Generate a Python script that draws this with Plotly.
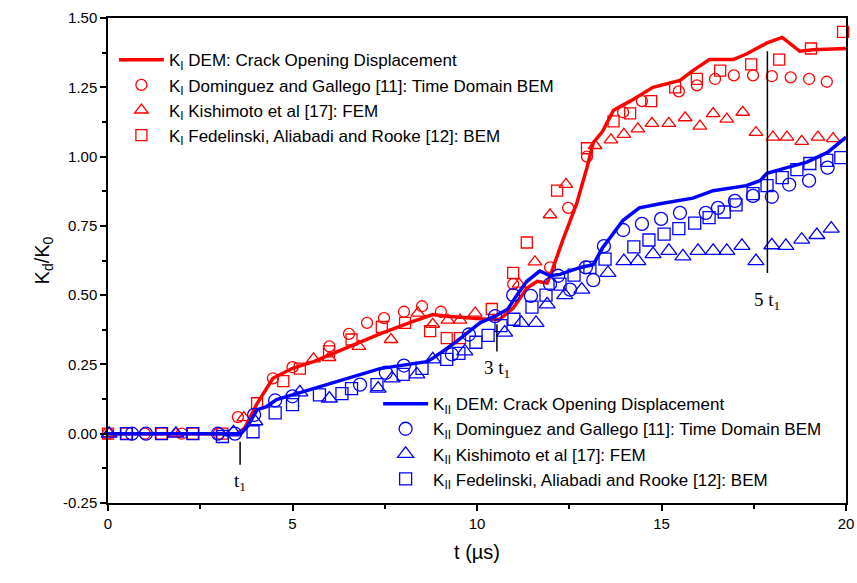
import plotly.graph_objects as go

# ---- KI DEM line ----
ki_dem_t = [0, 3.5, 3.7, 4.04, 4.47, 5.0, 5.57, 6.48, 7.37, 8.27, 8.8, 9.18, 9.73, 10.27, 10.62,
            10.98, 11.35, 11.63, 11.9, 12.03, 12.33, 12.7, 12.98, 13.15, 13.4, 13.7, 14.15, 14.77,
            15.5, 15.85, 16.3, 16.94, 17.3, 17.86, 18.27, 18.75, 19.1, 20]
ki_dem_v = [0, 0, 0.02, 0.109, 0.20, 0.236, 0.26, 0.31, 0.36, 0.405, 0.43, 0.424, 0.417, 0.413, 0.413,
            0.453, 0.525, 0.55, 0.544, 0.587, 0.70, 0.83, 0.96, 1.05, 1.09, 1.167, 1.20, 1.25,
            1.275, 1.31, 1.35, 1.35, 1.37, 1.41, 1.43, 1.38, 1.385, 1.39]

# ---- KII DEM line ----
kii_dem_t = [0, 3.6, 3.8, 4.04, 4.3, 4.57, 5.0, 5.57, 6.48, 7.37, 8.64, 8.8, 9.45, 10.08, 10.49,
             10.84, 11.08, 11.35, 11.7, 11.98, 12.25, 12.8, 13.15, 13.4, 13.96, 14.4, 14.96, 15.85,
             16.4, 17.3, 17.67, 17.86, 18.4, 18.94, 19.5, 20]
kii_dem_v = [0, 0, 0.03, 0.087, 0.098, 0.123, 0.14, 0.163, 0.20, 0.235, 0.26, 0.272, 0.333, 0.40, 0.424,
             0.45, 0.50, 0.55, 0.587, 0.57, 0.575, 0.60, 0.61, 0.67, 0.77, 0.815, 0.83, 0.85,
             0.877, 0.895, 0.913, 0.94, 0.96, 0.98, 1.015, 1.07]

# ---- KI Dominguez & Gallego (circles) ----
ki_dg_t = [0, 1, 2, 3, 3.52, 4.47, 5.0, 6.0, 6.53, 7.02, 7.48, 8.02, 8.51, 9.02, 10.98, 11.98,
           12.47, 12.98, 13.96, 14.47, 15.47, 15.96, 16.45, 16.96, 17.48, 17.99, 18.5, 19.0, 19.48]
ki_dg_v = [0, 0, 0, 0, 0.06, 0.20, 0.24, 0.315, 0.36, 0.40, 0.417, 0.44, 0.46, 0.44, 0.54, 0.60,
           0.815, 1.00, 1.16, 1.20, 1.235, 1.257, 1.28, 1.293, 1.293, 1.29, 1.286, 1.28, 1.27]

# ---- KI Kishimoto (triangles) ----
ki_k_t = [0.03, 1.84, 3.68, 5.57, 5.99, 6.8, 7.67, 8.4, 8.8, 9.21, 9.54, 9.95, 11.14, 11.57, 11.98,
          12.41, 13.2, 13.63, 13.98, 14.36, 14.74, 15.2, 15.64, 16.04, 16.4, 16.77, 17.2, 17.56,
          18.02, 18.4, 18.8, 19.24, 19.65]
ki_k_v = [0, 0, 0.058, 0.27, 0.275, 0.315, 0.34, 0.435, 0.395, 0.41, 0.41, 0.435, 0.54, 0.62, 0.79,
          0.90, 1.04, 1.06, 1.08, 1.10, 1.12, 1.12, 1.14, 1.11, 1.155, 1.135, 1.16, 1.087,
          1.07, 1.07, 1.055, 1.07, 1.065]

# ---- KI Fedelinski (squares) ----
ki_f_t = [0, 0.5, 1.45, 2.3, 3.1, 4.04, 4.75, 5.2, 5.99, 6.6, 7.42, 8.05, 8.73, 9.18, 9.54, 10.4,
          10.98, 11.35, 12.17, 12.98, 13.7, 14.15, 14.72, 15.37, 15.96, 16.59, 17.43, 18.19, 19.05, 19.92]
ki_f_v = [0, 0, 0, 0, 0, 0.11, 0.19, 0.235, 0.297, 0.34, 0.385, 0.40, 0.37, 0.345, 0.345, 0.45,
          0.58, 0.69, 0.877, 1.03, 1.127, 1.156, 1.20, 1.25, 1.28, 1.31, 1.333, 1.35, 1.39, 1.45]

# ---- KII Dominguez & Gallego (circles) ----
kii_dg_t = [0.65, 1.03, 2.98, 3.44, 3.96, 4.53, 5.0, 6.83, 7.53, 8.02, 9.32, 9.78, 10.49, 10.98,
            11.46, 11.98, 12.2, 12.52, 12.95, 13.15, 13.44, 13.96, 14.47, 14.99, 15.5, 16.2, 16.53,
            16.99, 17.48, 17.99, 18.46, 19.0, 19.5]
kii_dg_v = [0, 0, 0, 0, 0.068, 0.12, 0.135, 0.177, 0.22, 0.246, 0.286, 0.358, 0.424, 0.50,
            0.497, 0.54, 0.57, 0.52, 0.60, 0.554, 0.677, 0.735, 0.757, 0.775, 0.797, 0.797, 0.815,
            0.84, 0.858, 0.855, 0.899, 0.913, 0.96]

# ---- KII Kishimoto (triangles) ----
kii_k_t = [0.03, 1.84, 3.4, 3.98, 5.2, 6.0, 7.32, 7.7, 8.37, 8.8, 9.67, 10.75, 11.2, 11.6, 11.9,
           12.38, 12.84, 13.55, 13.98, 14.36, 14.77, 15.2, 15.58, 15.99, 16.4, 16.77, 17.18, 17.56,
           17.99, 18.37, 18.8, 19.21, 19.6]
kii_k_v = [0, 0, 0.005, 0.045, 0.149, 0.127, 0.163, 0.2, 0.214, 0.268, 0.297, 0.365, 0.40, 0.40, 0.467,
           0.50, 0.52, 0.58, 0.623, 0.623, 0.648, 0.66, 0.64, 0.66, 0.66, 0.66, 0.678, 0.623,
           0.68, 0.678, 0.70, 0.717, 0.74]

# ---- KII Fedelinski (squares) ----
kii_f_t = [0.5, 1.45, 2.3, 3.1, 3.93, 4.53, 5.0, 5.73, 6.34, 6.6, 7.29, 8.0, 8.51, 9.18, 9.51, 9.97,
           10.3, 10.65, 11.0, 11.49, 11.87, 12.25, 12.63, 13.06, 13.47, 14.25, 14.66, 15.07, 15.47,
           15.9, 16.29, 16.7, 17.02, 17.48, 17.86, 18.27, 18.67, 19.02, 19.48, 19.86]
kii_f_v = [0, 0, 0, -0.01, 0.007, 0.075, 0.105, 0.14, 0.145, 0.163, 0.177, 0.214, 0.236, 0.268, 0.29, 0.33,
           0.355, 0.39, 0.413, 0.457, 0.50, 0.54, 0.572, 0.60, 0.63, 0.674, 0.699, 0.72, 0.74,
           0.76, 0.78, 0.80, 0.826, 0.866, 0.895, 0.924, 0.953, 0.975, 0.986, 0.996]

# ---- time markers (t1, 3 t1, 5 t1) ----
mark_t = [3.58, 10.54, 17.87]
mark_y0 = [-0.112, 0.297, 0.58]
mark_y1 = [-0.029, 0.395, 1.38]
mark_label_y = [-0.175, 0.235, 0.478]
mark_labels = ["t<sub>1</sub>", "3 t<sub>1</sub>", "5 t<sub>1</sub>"]

RED = "#ff0000"
BLUE = "#0000ff"
FONT = "Liberation Sans, Arial, sans-serif"

fig = go.Figure()

def add_line(t, v, color, name, legend):
    fig.add_trace(go.Scatter(x=t, y=v, mode="lines", name=name, legend=legend,
                             line=dict(color=color, width=3.5), cliponaxis=False))

def add_marks(t, v, color, symbol, size, name, legend):
    fig.add_trace(go.Scatter(x=t, y=v, mode="markers", name=name, legend=legend,
                             marker=dict(symbol=symbol, size=size, color=color,
                                         line=dict(color=color, width=1.3)),
                             cliponaxis=False))

add_line(ki_dem_t, ki_dem_v, RED, "K<sub>I</sub> DEM: Crack Opening Displacement", "legend")
add_marks(ki_dg_t, ki_dg_v, RED, "circle-open", 11,
          "K<sub>I</sub> Dominguez and Gallego [11]: Time Domain BEM", "legend")
add_marks(ki_k_t, ki_k_v, RED, "triangle-up-open", 12, "K<sub>I</sub> Kishimoto et al [17]: FEM", "legend")
add_marks(ki_f_t, ki_f_v, RED, "square-open", 11,
          "K<sub>I</sub> Fedelinski, Aliabadi and Rooke [12]: BEM", "legend")

add_line(kii_dem_t, kii_dem_v, BLUE, "K<sub>II</sub> DEM: Crack Opening Displacement", "legend2")
add_marks(kii_dg_t, kii_dg_v, BLUE, "circle-open", 13,
          "K<sub>II</sub> Dominguez and Gallego [11]: Time Domain BEM", "legend2")
add_marks(kii_k_t, kii_k_v, BLUE, "triangle-up-open", 14, "K<sub>II</sub> Kishimoto et al [17]: FEM", "legend2")
add_marks(kii_f_t, kii_f_v, BLUE, "square-open", 12,
          "K<sub>II</sub> Fedelinski, Aliabadi and Rooke [12]: BEM", "legend2")

for xt, y0, y1, ly, lab in zip(mark_t, mark_y0, mark_y1, mark_label_y, mark_labels):
    fig.add_shape(type="line", xref="x", yref="y", x0=xt, x1=xt, y0=y0, y1=y1,
                  line=dict(color="black", width=1.5))
    fig.add_annotation(x=xt, y=ly, xref="x", yref="y", text=lab, showarrow=False,
                       font=dict(family="Liberation Serif, Times New Roman, serif", size=19, color="black"))

axis_common = dict(showline=True, linecolor="black", linewidth=1.5, mirror=True, ticks="outside",
                   ticklen=6, tickwidth=1.5, tickcolor="black", showgrid=False, zeroline=False,
                   tickfont=dict(family=FONT, size=15, color="black"))

fig.update_xaxes(range=[0, 20], tickvals=[0, 5, 10, 15, 20], ticktext=["0", "5", "10", "15", "20"],
                 minor=dict(ticks="outside", ticklen=4, tickwidth=1.5, tickcolor="black", dtick=2.5, tick0=0),
                 title=dict(text="t (µs)", font=dict(family=FONT, size=20, color="black"), standoff=14),
                 **axis_common)
fig.update_yaxes(range=[-0.25, 1.5], tickvals=[-0.25, 0, 0.25, 0.5, 0.75, 1.0, 1.25, 1.5],
                 ticktext=["-0.25", "0.00", "0.25", "0.50", "0.75", "1.00", "1.25", "1.50"],
                 minor=dict(ticks="outside", ticklen=4, tickwidth=1.5, tickcolor="black", dtick=0.125, tick0=0),
                 title=dict(text="K<sub>d</sub>/K<sub>0</sub>", font=dict(family=FONT, size=20, color="black"),
                            standoff=8),
                 **axis_common)

legend_common = dict(bgcolor="rgba(0,0,0,0)", borderwidth=0, font=dict(family=FONT, size=17, color="black"),
                     itemwidth=45, tracegroupgap=0, xanchor="left", yanchor="top")

fig.update_layout(
    width=857, height=583,
    margin=dict(l=108, r=11, t=18, b=80, autoexpand=False),
    paper_bgcolor="white", plot_bgcolor="white",
    showlegend=True,
    legend=dict(x=0.008, y=0.95, **legend_common),
    legend2=dict(x=0.366, y=0.241, **legend_common),
)

fig.write_html("out.html")
